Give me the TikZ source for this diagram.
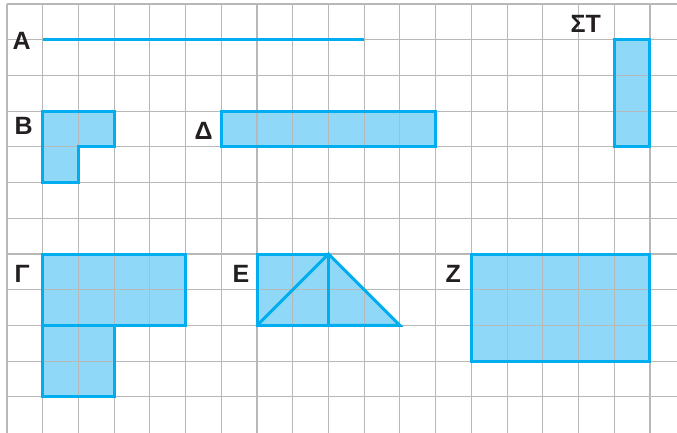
\documentclass[tikz,border=0pt]{standalone}
\usepackage{fontspec}
\setmainfont{Liberation Sans}
\definecolor{gridgray}{HTML}{B8B8B8}
\definecolor{edgeblue}{HTML}{00AEEF}
\definecolor{fillblue}{HTML}{8FD8F7}
\definecolor{ink}{HTML}{231F20}
\begin{document}
\begin{tikzpicture}[x=1pt,y=-1pt,
  lab/.style={font=\bfseries\fontsize{25}{25}\selectfont, anchor=west, inner sep=0pt, text=ink},
  figfill/.style={fill=fillblue, draw=none},
  figedge/.style={draw=edgeblue, line width=3pt, line join=miter},
  gridline/.style={draw=gridgray, line width=1.1pt}]
\useasboundingbox (0,0) rectangle (677,432);
\begin{scope}
\clip (0,0) rectangle (677,432);
\begin{scope}[shift={(7,4)}, x=35.72pt, y=-35.72pt]
  % fills
  \fill[figfill] (1,3) -- (3,3) -- (3,4) -- (2,4) -- (2,5) -- (1,5) -- cycle;
  \fill[figfill] (6,3) rectangle (12,4);
  \fill[figfill] (17,1) rectangle (18,4);
  \fill[figfill] (1,7) -- (5,7) -- (5,9) -- (3,9) -- (3,11) -- (1,11) -- cycle;
  \fill[figfill] (7,7) -- (9,7) -- (11,9) -- (7,9) -- cycle;
  \fill[figfill] (13,7) rectangle (18,10);
  % grid
  \foreach \i in {0,...,18} \draw[gridline] (\i,0) -- (\i,12.5);
  \foreach \j in {0,...,11} \draw[gridline] (0,\j) -- (19,\j);
  % outlines
  \draw[draw=edgeblue, line width=2.6pt] (1,1) -- (10,1);
  \draw[figedge] (1,3) -- (3,3) -- (3,4) -- (2,4) -- (2,5) -- (1,5) -- cycle;
  \draw[figedge] (6,3) rectangle (12,4);
  \draw[figedge] (17,1) rectangle (18,4);
  \draw[figedge] (1,7) rectangle (5,9);
  \draw[figedge] (1,9) rectangle (3,11);
  \draw[figedge] (7,7) rectangle (9,9);
  \draw[figedge] (7,9) -- (9,7) -- (11,9) -- (9,9);
  \draw[figedge] (13,7) rectangle (18,10);
\end{scope}
\end{scope}
% labels
\node[lab] (la) at (12.5pt,-41pt) {A};
\node[lab] (lb) at (14.5pt,-126pt) {B};
\node[lab] (ld) at (194.5pt,-130.5pt) {Δ};
\node[lab] (lst) at (570.5pt,-23.5pt) {ΣΤ};
\node[lab] (lg) at (14.5pt,-274pt) {Γ};
\node[lab] (le) at (232.5pt,-274pt) {Ε};
\node[lab] (lz) at (445.5pt,-274pt) {Ζ};
\end{tikzpicture}
\end{document}
